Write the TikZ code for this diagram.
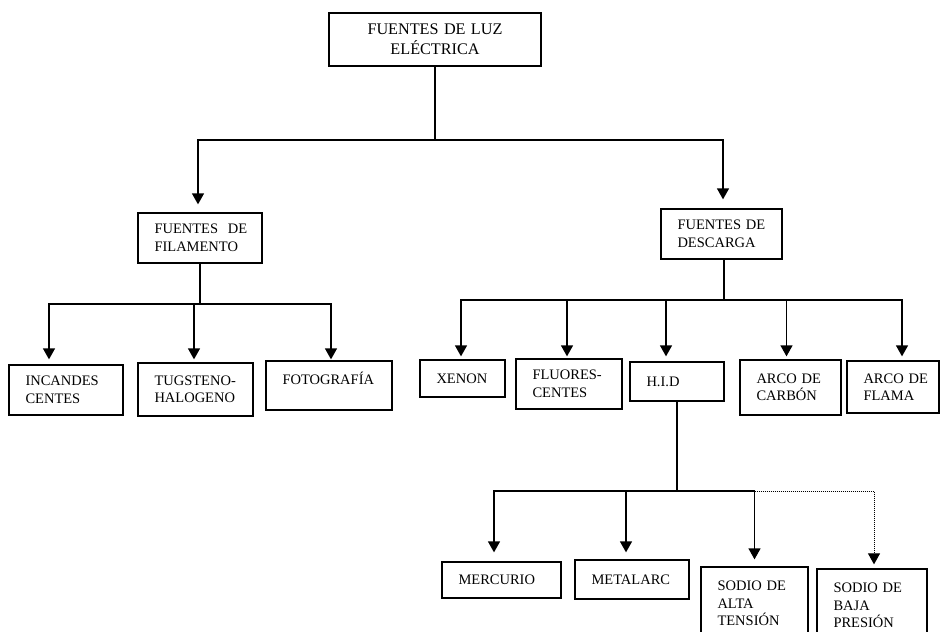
\documentclass[tikz,border=0pt]{standalone}
\usepackage{fontspec}
\setmainfont{Liberation Serif}
\usetikzlibrary{arrows.meta}
\newcommand\boxfont{\fontsize{14.5}{17.5}\selectfont\hyphenpenalty=10000\relax\exhyphenpenalty=10000\relax\hbadness=10000\relax\hfuzz=100pt\relax}
\newcommand\topfont{\fontsize{16.2}{20}\selectfont}
\tikzset{
  box/.style={draw, line width=1.3pt, inner xsep=16.5pt, inner ysep=0pt, align=left, font=\boxfont},
  topbox/.style={box, align=center, font=\topfont},
  ln/.style={line width=1.3pt},
  arr/.style={ln, -{Triangle[width=12pt,length=11pt]}},
  dotarr/.style={line width=1pt, densely dotted, -{Triangle[width=12pt,length=11pt]}}
}
\newcommand\bx[7][]{%
  \pgfmathsetmacro\bxW{#5-#3}%
  \pgfmathsetmacro\bxH{#6-#4}%
  \pgfmathsetmacro\bxT{#5-#3-33}%
  \node[box,minimum width=\bxW pt,minimum height=\bxH pt,text width=\bxT pt,#1] (#2) at ({(#3+#5)/2},{-(#4+#6)/2}) {#7};}
\begin{document}
\begin{tikzpicture}[x=1pt,y=1pt]
\clip (0,0) rectangle (941,-631);
\fill[white] (0,0) rectangle (941,-631);
% boxes
\bx[topbox]{top}{329}{13}{541}{66}{FUENTES DE LUZ\\ELÉCTRICA}
\bx{filam}{138}{213}{262}{263}{FUENTES~~DE\\FILAMENTO}
\bx{desc}{661}{209}{782}{259}{FUENTES~DE\\DESCARGA}
\bx{inc}{9}{365}{123}{415}{INCANDES\\CENTES}
\bx{tug}{138}{363}{253}{416}{TUGSTENO-\\HALOGENO}
\bx[text depth=14pt]{foto}{266}{361}{392}{410}{FOTOGRAFÍA}
\bx{xen}{420}{360}{505}{397}{XENON}
\bx{flu}{516}{359}{622}{409}{FLUORES-\\CENTES}
\bx{hid}{630}{362}{724}{401}{H.I.D}
\bx{carb}{740}{360}{841}{415}{ARCO~DE\\CARBÓN}
\bx{flam}{847}{361}{939}{413}{ARCO~DE\\FLAMA}
\bx{merc}{442}{562}{561}{598}{MERCURIO}
\bx{meta}{575}{560}{689}{599}{METALARC}
\bx{alta}{701}{567}{808}{640}{SODIO~DE\\ALTA\\TENSIÓN}
\bx{baja}{817}{569}{927}{642}{SODIO~DE\\BAJA\\PRESIÓN}
% bus levels
\coordinate (b1) at (0,-140);
\coordinate (b2) at (0,-304);
\coordinate (b3) at (0,-300);
\coordinate (b4) at (0,-491);
% level 1
\draw[arr,shorten >=8pt] (top.south) -- (top.south|-b1) -| ([xshift=-2pt]filam.north);
\draw[arr,shorten >=9pt] (top.south|-b1) -| ([xshift=1.5pt]desc.north);
% filament children
\draw[arr,shorten >=5pt] (filam.south) -- (filam.south|-b2) -| ([xshift=-17pt]inc.north);
\draw[arr,shorten >=3pt] (filam.south|-b2) -| ([xshift=-1.5pt]tug.north);
\draw[arr,shorten >=1pt] (filam.south|-b2) -| ([xshift=2pt]foto.north);
% discharge children
\draw[arr,shorten >=3pt] ([xshift=2.5pt]desc.south) -- ([xshift=2.5pt]desc.south|-b3) -| ([xshift=-1.5pt]xen.north);
\draw[arr,shorten >=2pt] ([xshift=2.5pt]desc.south|-b3) -| ([xshift=-2pt]flu.north);
\draw[arr,shorten >=5pt] ([xshift=2.5pt]desc.south|-b3) -| ([xshift=-11pt]hid.north);
\draw[arr,shorten >=3pt] ([xshift=2.5pt]desc.south|-b3) -| ([xshift=-4pt]carb.north);
\draw[arr,shorten >=4pt] ([xshift=2.5pt]desc.south|-b3) -| ([xshift=9pt]flam.north);
% HID children
\draw[arr,shorten >=9pt] (hid.south) -- (hid.south|-b4) -| ([xshift=-7.5pt]merc.north);
\draw[arr,shorten >=7pt] (hid.south|-b4) -| ([xshift=-6pt]meta.north);
\draw[arr,shorten >=7pt] (hid.south|-b4) -| (alta.north);
\draw[dotarr,shorten >=4pt] (alta.north|-b4) -| ([xshift=2pt]baja.north);
\end{tikzpicture}
\end{document}
